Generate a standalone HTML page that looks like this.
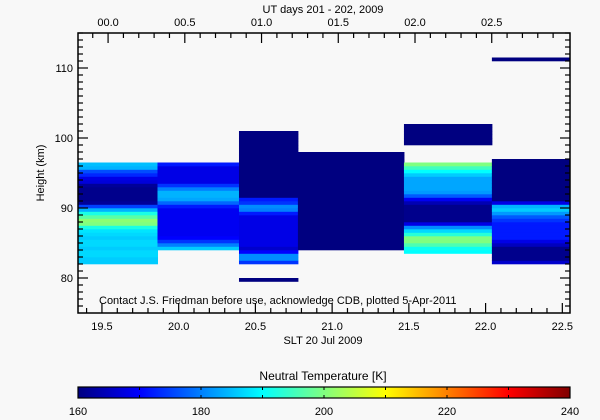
<!DOCTYPE html>
<html><head><meta charset="utf-8"><style>
html,body{margin:0;padding:0;background:#f8f8f8;}
svg{display:block;font-family:"Liberation Sans",sans-serif;}
</style></head><body>
<svg id="chart" width="600" height="420"></svg>
<script>
// ---- data ----
const profileStarts = [19.30, 19.862, 20.393, 20.777, 21.468, 22.041];
const profileEnds   = [19.862, 20.393, 20.777, 21.468, 22.041, 22.60];
const profileBases  = [82, 84, 79.5, 84, 83.5, 82];
const binSize = 0.5;
const temps1 = [186,186,187,187,186,187,187,186,187,188,192,200,201,197,192,184,175,162,161,161,161,161,162,167,168,173,176,184,185];
const temps2 = [186,180,174,170,169,169,169,169,169,169,169,169,172,178,183,184,184,180,174,168,168,168,168,168,172];
const temps3 = [160,null,null,null,null,174,181,181,170,166,168,168,168,168,168,168,168,168,168,172,180,181,174,172,160,160,160,160,160,160,160,160,160,160,160,160,160,160,160,160,160,160,160];
const temps4 = [160,160,160,160,160,160,160,160,160,160,160,160,160,160,160,160,160,160,160,160,160,160,160,160,160,160,160,160];
const temps5 = [190,191,196,200,200,193,187,181,168,161,161,161,161,161,164,169,177,182,183,183,183,183,186,190,195,200,null,null,null,null,null,160,160,160,160,160,160];
const temps6 = [166,161,161,161,161,165,168,172,172,172,172,172,174,177,182,186,184,168,160,160,160,160,160,160,160,160,160,160,160,160,null,null,null,null,null,null,null,null,null,null,null,null,null,null,null,null,null,null,null,null,null,null,null,null,null,null,null,null,160];
const profileTemps = [temps1,temps2,temps3,temps4,temps5,temps6];
const xTickLabels = ["19.5","20.0","20.5","21.0","21.5","22.0","22.5"];
const xTickValues = [19.5,20.0,20.5,21.0,21.5,22.0,22.5];
const topTickLabels = ["00.0","00.5","01.0","01.5","02.0","02.5"];
const topTickValues = [0,0.5,1.0,1.5,2.0,2.5];
const yTickValues = [80,90,100,110];
const cbTickValues = [160,180,200,220,240];

// ---- layout ----
const L=78,R=570,T=33,B=313;
const xMin=19.344,xMax=22.55,yMin=75,yMax=115,utOffset=19.54;
const cmin=160,cmax=240;
const xs=t=>L+(t-xMin)/(xMax-xMin)*(R-L);
const ys=h=>B-(h-yMin)/(yMax-yMin)*(B-T);
function jet(v){
  let f=(v-cmin)/(cmax-cmin); f=Math.max(0,Math.min(1,f));
  const c=x=>Math.round(255*Math.max(0,Math.min(1,x)));
  const r=c(Math.min(4*f-1.5,-4*f+4.5)),g=c(Math.min(4*f-0.5,-4*f+3.5)),b=c(Math.min(4*f+0.5,-4*f+2.5));
  return `rgb(${r},${g},${b})`;
}
const NS="http://www.w3.org/2000/svg";
const svg=document.getElementById('chart');
function el(tag,attrs,parent){const e=document.createElementNS(NS,tag);for(const k in attrs)e.setAttribute(k,attrs[k]);(parent||svg).appendChild(e);return e;}

const clip=el('clipPath',{id:'pc'});el('rect',{x:L,y:T,width:R-L,height:B-T},clip);
const g=el('g',{'clip-path':'url(#pc)'});


profileTemps.forEach((arr,p)=>{
  const x0=xs(profileStarts[p]),x1=xs(profileEnds[p]);
  arr.forEach((v,i)=>{
    if(v===null)return;
    const h0=profileBases[p]+i*binSize,h1=h0+binSize;
    const r=el('rect',{x:x0,y:ys(h1),width:x1-x0+0.5,height:ys(h0)-ys(h1)+0.3,fill:jet(v)},g);
    
    
  });
});

// frame
const frame=el('rect',{x:L,y:T,width:R-L,height:B-T,fill:'none',stroke:'#000','stroke-width':1.5});


const ax=el('g',{stroke:'#000','stroke-width':1.2});
for(let t=19.4;t<=22.55;t+=0.1){const x=xs(t);const maj=Math.abs(t*2-Math.round(t*2))<0.01;const len=maj?10:5;
  el('line',{x1:x,y1:B,x2:x,y2:B-len},ax);}
for(let u=-0.1;u<=3.0;u+=0.1){const x=xs(u+utOffset);if(x<L||x>R)continue;const maj=Math.abs(u*2-Math.round(u*2))<0.01;const len=maj?10:5;
  el('line',{x1:x,y1:T,x2:x,y2:T+len},ax);}
for(let h=76;h<=115;h+=1){const y=ys(h);const len=(h%10===0)?10:5;
  el('line',{x1:L,y1:y,x2:L+len,y2:y},ax);el('line',{x1:R,y1:y,x2:R-len,y2:y},ax);}
function txt(s,x,y,attrs,name){const t=el('text',Object.assign({x:x,y:y,'font-size':11,fill:'#000'},attrs||{}));t.textContent=s;
  return t;}
xTickLabels.forEach((s,i)=>txt(s,xs(xTickValues[i]),330,{'text-anchor':'middle'},'x-tick-label'));
topTickLabels.forEach((s,i)=>txt(s,xs(topTickValues[i]+utOffset),26,{'text-anchor':'middle'},'top-tick-label'));
yTickValues.forEach(v=>txt(String(v),L-5,ys(v)+4,{'text-anchor':'end'},'y-tick-label'));
txt('UT days 201 - 202, 2009',323,13,{'text-anchor':'middle'},'top-axis-title');
txt('SLT 20 Jul 2009',323,344,{'text-anchor':'middle'},'x-axis-title');
txt('Height (km)',44,173,{'text-anchor':'middle',transform:'rotate(-90 44 173)'},'y-axis-title');
txt('Contact J.S. Friedman before use, acknowledge CDB, plotted 5-Apr-2011',99,304,{},'credit-note');

// colorbar
const defs=el('defs',{});const lg=el('linearGradient',{id:'cbg',x1:0,x2:1,y1:0,y2:0},defs);
for(let i=0;i<=16;i++){el('stop',{offset:i/16,'stop-color':jet(cmin+i/16*(cmax-cmin))},lg);}
const cb=el('rect',{x:L,y:387,width:R-L,height:11,fill:'url(#cbg)',stroke:'#000','stroke-width':1.2});


const cx=v=>L+(v-cmin)/(cmax-cmin)*(R-L);
for(let v=170;v<240;v+=10){el('line',{x1:cx(v),y1:387,x2:cx(v),y2:390,stroke:'#000'});el('line',{x1:cx(v),y1:398,x2:cx(v),y2:395,stroke:'#000'});}
cbTickValues.forEach(v=>txt(String(v),cx(v),415,{'text-anchor':'middle'},'colorbar-tick-label'));
txt('Neutral Temperature [K]',323,380,{'text-anchor':'middle','font-size':12},'colorbar-title');
</script>
</body></html>
